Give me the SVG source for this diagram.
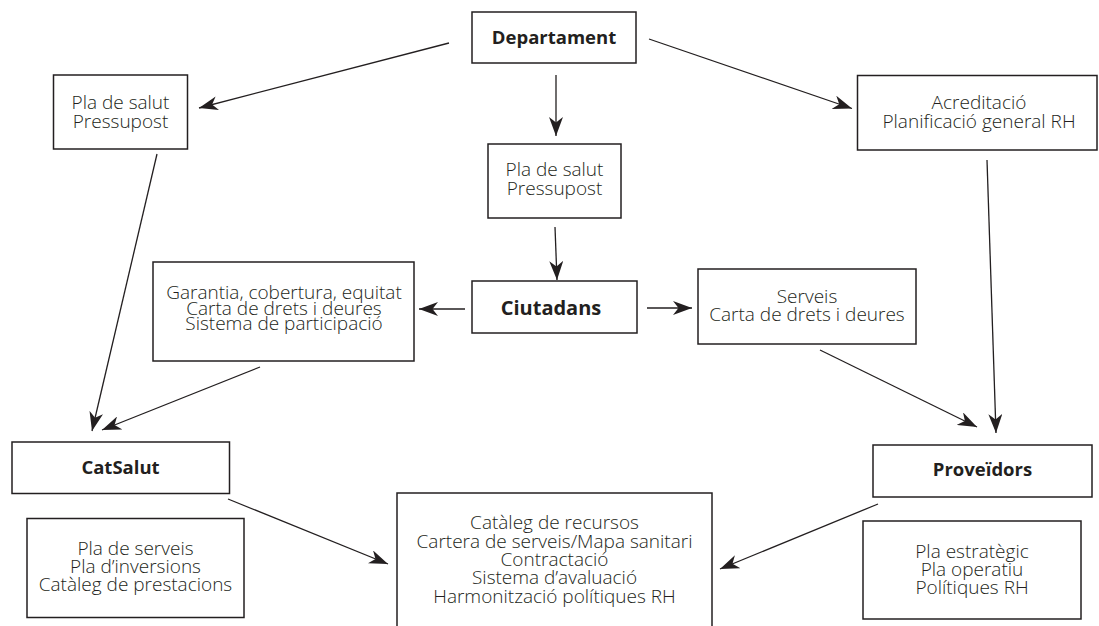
<svg xmlns="http://www.w3.org/2000/svg" width="1099" height="626" viewBox="0 0 1099 626">
<defs>
<style>
.box{fill:#fff;stroke:#231f20;stroke-width:1.5}
.t{font-family:"Open Sans","Liberation Sans",sans-serif;font-size:19px;font-weight:300;fill:#231f20;text-anchor:middle}
.b{font-family:"Open Sans","Liberation Sans",sans-serif;font-size:18.5px;font-weight:700;fill:#231f20;text-anchor:middle}
.c line{stroke:#231f20;stroke-width:1.3;marker-end:url(#ah)}
</style>
<marker id="ah" markerUnits="userSpaceOnUse" markerWidth="20" markerHeight="14" refX="19" refY="7" orient="auto" viewBox="0 0 20 14">
<path d="M0,0 L19,7 L0,14 L5.5,7 Z" fill="#231f20"/>
</marker>
</defs>
<rect width="1099" height="626" fill="#fff"/>
<g id="connectors" class="c">
<line x1="449" y1="43" x2="199" y2="108"/>
<line x1="556" y1="75" x2="556" y2="136"/>
<line x1="649" y1="39" x2="852" y2="108.5"/>
<line x1="555" y1="227" x2="557" y2="280"/>
<line x1="465" y1="309" x2="419" y2="309"/>
<line x1="647" y1="308" x2="692" y2="308"/>
<line x1="157" y1="154" x2="92" y2="431"/>
<line x1="260" y1="367" x2="102" y2="430"/>
<line x1="987" y1="160" x2="996" y2="433"/>
<line x1="820" y1="350" x2="977" y2="427"/>
<line x1="228" y1="499" x2="388" y2="564"/>
<line x1="878" y1="504" x2="720" y2="569"/>
</g>
<g id="departament">
<rect class="box" x="472" y="12" width="164" height="51"/>
<text class="b" x="554" y="44">Departament</text>
</g>
<g id="pla-salut-left">
<rect class="box" x="53.5" y="75" width="134" height="74"/>
<text class="t" x="120.5" y="109">Pla de salut</text>
<text class="t" x="120.5" y="128">Pressupost</text>
</g>
<g id="pla-salut-mid">
<rect class="box" x="488" y="144" width="133" height="74"/>
<text class="t" x="554.5" y="176">Pla de salut</text>
<text class="t" x="554.5" y="195">Pressupost</text>
</g>
<g id="acreditacio">
<rect class="box" x="857.5" y="75.5" width="239.5" height="74.5"/>
<text class="t" x="979" y="109">Acreditació</text>
<text class="t" x="979" y="128">Planificació general RH</text>
</g>
<g id="garantia">
<rect class="box" x="153" y="262" width="261" height="99"/>
<text class="t" x="284" y="299">Garantia, cobertura, equitat</text>
<text class="t" x="284" y="314.5">Carta de drets i deures</text>
<text class="t" x="284" y="330">Sistema de participació</text>
</g>
<g id="ciutadans">
<rect class="box" x="472" y="281" width="165" height="52"/>
<text class="b" x="551" y="314.5" style="font-size:20px">Ciutadans</text>
</g>
<g id="serveis">
<rect class="box" x="698" y="269" width="218" height="75"/>
<text class="t" x="807" y="302.5">Serveis</text>
<text class="t" x="807" y="320.5">Carta de drets i deures</text>
</g>
<g id="catsalut">
<rect class="box" x="12" y="442" width="217.5" height="51.5"/>
<text class="b" x="120.5" y="473.5">CatSalut</text>
</g>
<g id="catsalut-plans">
<rect class="box" x="27" y="518.5" width="217" height="99"/>
<text class="t" x="135.5" y="555">Pla de serveis</text>
<text class="t" x="135.5" y="573">Pla d’inversions</text>
<text class="t" x="135.5" y="591">Catàleg de prestacions</text>
</g>
<g id="central">
<rect class="box" x="397" y="493" width="315" height="150"/>
<text class="t" x="554.5" y="529">Catàleg de recursos</text>
<text class="t" x="554.5" y="547.5">Cartera de serveis/Mapa sanitari</text>
<text class="t" x="554.5" y="565.5">Contractació</text>
<text class="t" x="554.5" y="584">Sistema d’avaluació</text>
<text class="t" x="554.5" y="602.5">Harmonització polítiques RH</text>
</g>
<g id="proveidors">
<rect class="box" x="873" y="445" width="219" height="52"/>
<text class="b" x="982.5" y="476">Proveïdors</text>
</g>
<g id="proveidors-plans">
<rect class="box" x="863" y="521" width="218" height="98"/>
<text class="t" x="972" y="558">Pla estratègic</text>
<text class="t" x="972" y="576">Pla operatiu</text>
<text class="t" x="972" y="594">Polítiques RH</text>
</g>
</svg>
